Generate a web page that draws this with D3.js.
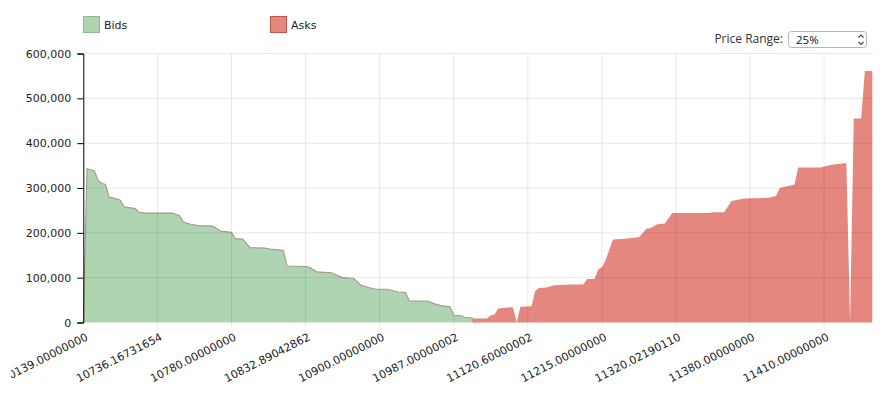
<!DOCTYPE html>
<html><head><meta charset="utf-8">
<script src="https://cdn.jsdelivr.net/npm/d3@7"></script>
<style>
html,body{margin:0;padding:0;background:#fff;}
svg{position:absolute;left:11px;top:0;overflow:hidden;}
</style></head><body>
<script>
// ---- data ----
const seriesNames = ["Bids", "Asks"];
const bidIndex  = [0,1,3,4,5,6,7,8,10,11,14,15,17,24,26,27,29,31,35,37,40,41,43,45,49,51,54,55,60,61,63,67,70,73,75,77,79,82,85,87,88,93,95,97,99,100,102,103,105,106];
const bidVolume = [0,343000,338000,317000,310000,308000,279000,278000,273000,258000,254000,246000,244000,244000,238000,224000,219000,216000,215000,204000,201000,187000,186000,167000,166000,163000,161000,126000,125000,123000,113000,111000,100000,98000,83000,78000,74000,74000,68000,67000,48000,48000,41000,37000,35000,16000,15000,11000,10000,0];
const askIndex  = [105,109,110,111,112,114,116,117,118,121,122,123,125,127,132,135,136,138,139,140,141,143,146,150,152,153,155,157,159,169,170,173,175,178,180,185,187,188,190,192,193,199,202,206,207,208,210,211,213];
const askVolume = [9000,9000,16000,18000,31000,33000,34000,0,35000,36000,70000,77000,78000,83000,85000,85000,97000,97000,118000,123000,139000,185000,187000,190000,209000,210000,219000,221000,244000,244000,246000,246000,271000,276000,277000,278000,282000,300000,304000,308000,346000,346000,352000,356000,0,455000,455000,561000,561000];
const pointCount = 214;
const xTickIndex  = [0,20,40,60,80,100,120,140,160,180,200];
const xTickLabels = ["10139.00000000","10736.16731654","10780.00000000","10832.89042862","10900.00000000","10987.00000002","11120.60000002","11215.00000000","11320.02190110","11380.00000000","11410.00000000"];
const yTicks = [0,100000,200000,300000,400000,500000,600000];
const priceRangeLabel = "Price Range:";
const priceRangeValue = "25%";

// ---- layout ----
const FONT = "'DejaVu Sans', Verdana, sans-serif";
const plotL = 83.3, plotR = 872.3, plotT = 53.5, plotB = 322.5;
const svgLeft = 11;

const svg = d3.select("body").append("svg").attr("width", 896 - svgLeft).attr("height", 402);
const root = svg.append("g").attr("transform", `translate(${-svgLeft},0)`);

const x = d3.scaleLinear().domain([0, pointCount - 1]).range([plotL, plotR]);
const y = d3.scaleLinear().domain([0, 600000]).range([plotB, plotT]);

const bids = bidIndex.map((d, i) => ({i: d, v: bidVolume[i]}));
const asks = askIndex.map((d, i) => ({i: d, v: askVolume[i]}));

const area = d3.area().x(d => x(d.i)).y0(y(0)).y1(d => y(d.v));
const line = d3.line().x(d => x(d.i)).y(d => y(d.v));

root.append("path").datum(bids).attr("d", area).attr("fill", "#afd4b1");
root.append("path").datum(bids).attr("d", line).attr("fill", "none").attr("stroke", "#a6978a").attr("stroke-width", 1.1);
root.append("path").datum(asks).attr("d", area).attr("fill", "#e5877f");

// grid on top (semi transparent)
root.append("g").selectAll("line").data(yTicks.filter(d => d > 0)).join("line")
  .attr("x1", plotL).attr("x2", plotR + 0.5)
  .attr("y1", d => y(d)).attr("y2", d => y(d))
  .attr("stroke", "rgba(0,0,0,0.09)").attr("stroke-width", 1);
root.append("g").selectAll("line").data(xTickIndex.slice(1)).join("line")
  .attr("x1", d => x(d)).attr("x2", d => x(d))
  .attr("y1", plotT).attr("y2", plotB + 4)
  .attr("stroke", "rgba(0,0,0,0.09)").attr("stroke-width", 1);

// y axis
const yAxis = root.append("g").attr("transform", `translate(${plotL},0)`)
  .call(d3.axisLeft(y).tickValues(yTicks).tickFormat(d3.format(",")).tickSize(6).tickPadding(6));
yAxis.attr("font-family", FONT).attr("font-size", 11);
yAxis.selectAll("text").attr("fill", "#222");
yAxis.select(".domain").attr("stroke", "#000");

// x axis
const xAxis = root.append("g").attr("transform", `translate(0,${plotB})`)
  .call(d3.axisBottom(x).tickValues(xTickIndex).tickFormat((d, i) => xTickLabels[i]).tickSize(0));
xAxis.select(".domain").remove();
xAxis.attr("font-family", FONT).attr("font-size", 11);
xAxis.selectAll("text")
  .attr("x", 0).attr("y", 0).attr("dy", 0)
  .attr("transform", `translate(5,${339.5 - plotB}) rotate(-27)`)
  .attr("text-anchor", "end").attr("fill", "#222");

// legend
const legendColors = [["#afd4b1", "#8cb98e"], ["#e5877f", "#c0554c"]];
const legendX = [83, 270];
seriesNames.forEach((name, k) => {
  root.append("rect").attr("x", legendX[k] + 0.5).attr("y", 16.5).attr("width", 16).attr("height", 16)
    .attr("fill", legendColors[k][0]).attr("stroke", legendColors[k][1]);
  root.append("text").attr("x", legendX[k] + 21).attr("y", 29).text(name)
    .attr("font-family", FONT).attr("font-size", 11).attr("fill", "#222");
});

// price range control
root.append("text").attr("x", 783).attr("y", 43).attr("text-anchor", "end")
  .attr("font-family", "'Open Sans', sans-serif").attr("font-size", 12).attr("fill", "#333")
  .text(priceRangeLabel);
root.append("rect").attr("x", 788.5).attr("y", 31.5).attr("width", 78).attr("height", 16).attr("rx", 3)
  .attr("fill", "#fff").attr("stroke", "#b5b5b5");
root.append("text").attr("x", 796).attr("y", 43.5)
  .attr("font-family", "'Open Sans', sans-serif").attr("font-size", 11.5).attr("fill", "#111")
  .text(priceRangeValue);
root.append("path").attr("d", "M858.5,37.5 L861,35 L863.5,37.5 M858.5,42 L861,44.5 L863.5,42")
  .attr("fill", "none").attr("stroke", "#444").attr("stroke-width", 1.1);
</script>
</body></html>
